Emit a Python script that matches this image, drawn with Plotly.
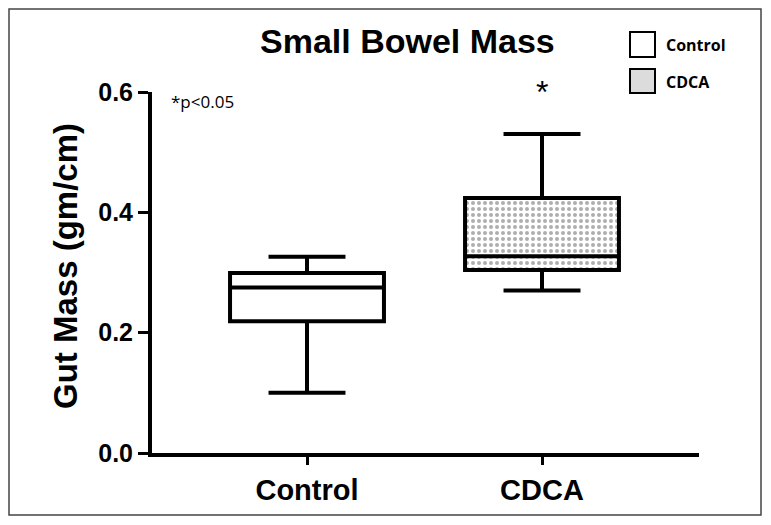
import plotly.graph_objects as go

# ---------------- data ----------------
groups = ["Control", "CDCA"]
q_min = [0.100, 0.270]
q1 = [0.219, 0.304]
median = [0.275, 0.327]
q3 = [0.299, 0.424]
q_max = [0.326, 0.530]
y_ticks = [0.0, 0.2, 0.4, 0.6]
y_tick_labels = ["0.0", "0.2", "0.4", "0.6"]
fills = ["white", "pattern"]

# ---------------- geometry (pixels, page coordinates) ----------------
OFF = 8                      # default body margin of the html page
W, H = 771 - OFF, 525 - OFF  # figure size
L, R, T, B = 152, 699, 92, 453   # plot area in page pixels


def px_x(px):
    return (px - L) / (R - L)


def px_y(py):
    return (B - py) / (B - T)


FONT = "Liberation Sans, Arial, sans-serif"
BOX_W = 0.655
CAT0_PX, CAT_STEP = 307, 235

fig = go.Figure()

for i, g in enumerate(groups):
    if fills[i] == "pattern":
        fig.add_trace(go.Bar(
            x=[g], base=[q1[i]], y=[q3[i] - q1[i]], width=BOX_W,
            marker=dict(color="white",
                        pattern=dict(shape=".", fgcolor="#5e5e5e", bgcolor="white",
                                     size=6, solidity=0.35),
                        line=dict(width=0)),
            showlegend=False, hoverinfo="skip"))
    fig.add_trace(go.Box(
        x=[g], q1=[q1[i]], median=[median[i]], q3=[q3[i]],
        lowerfence=[q_min[i]], upperfence=[q_max[i]],
        width=BOX_W, whiskerwidth=0.5, boxpoints=False,
        line=dict(color="black", width=4),
        fillcolor="white" if fills[i] == "white" else "rgba(0,0,0,0)",
        name=g, showlegend=False))

shapes = []
# outer frame
shapes.append(dict(type="rect", xref="paper", yref="paper",
                   x0=px_x(9), x1=px_x(761), y0=px_y(9), y1=px_y(515),
                   line=dict(color="#444", width=1.5), fillcolor="rgba(0,0,0,0)", layer="below"))
# legend swatches
shapes.append(dict(type="rect", xref="paper", yref="paper",
                   x0=px_x(630), x1=px_x(655), y0=px_y(57), y1=px_y(32),
                   line=dict(color="black", width=2), fillcolor="white"))
shapes.append(dict(type="rect", xref="paper", yref="paper",
                   x0=px_x(630), x1=px_x(655), y0=px_y(93), y1=px_y(69),
                   line=dict(color="black", width=2), fillcolor="#dcdcdc"))

annotations = [
    dict(text="Small Bowel Mass", xref="paper", yref="paper",
         x=px_x(407), y=px_y(41), xanchor="center", yanchor="middle", showarrow=False,
         font=dict(family=FONT, size=34, color="black", weight="bold")),
    dict(text="Gut Mass (gm/cm)", xref="paper", yref="paper", textangle=-90,
         x=px_x(65), y=px_y(266), xanchor="center", yanchor="middle", showarrow=False,
         font=dict(family=FONT, size=33, color="black", weight="bold")),
    dict(text="*p<0.05", xref="paper", yref="paper",
         x=px_x(169), y=px_y(102), xanchor="left", yanchor="middle", showarrow=False,
         font=dict(family="Open Sans, sans-serif", size=17, color="black")),
    dict(text="*", xref="x", yref="paper", x=groups[1],
         y=px_y(92), xanchor="center", yanchor="middle", showarrow=False,
         font=dict(family=FONT, size=32, color="black")),
    dict(text="Control", xref="paper", yref="paper",
         x=px_x(664), y=px_y(45), xanchor="left", yanchor="middle", showarrow=False,
         font=dict(family="Open Sans, sans-serif", size=16, color="black", weight="bold")),
    dict(text="CDCA", xref="paper", yref="paper",
         x=px_x(664), y=px_y(82), xanchor="left", yanchor="middle", showarrow=False,
         font=dict(family="Open Sans, sans-serif", size=16, color="black", weight="bold")),
]

fig.update_layout(
    width=W, height=H,
    margin=dict(l=L - OFF, r=W - (R - OFF), t=T - OFF, b=H - (B - OFF), pad=0),
    paper_bgcolor="white", plot_bgcolor="white",
    boxmode="overlay", barmode="overlay",
    showlegend=False,
    shapes=shapes, annotations=annotations,
    xaxis=dict(type="category", categoryorder="array", categoryarray=groups,
               range=[(L - CAT0_PX) / CAT_STEP, (R - CAT0_PX) / CAT_STEP],
               showline=True, linewidth=4, linecolor="black",
               ticks="outside", ticklen=8, tickwidth=3, tickcolor="black",
               showgrid=False, zeroline=False,
               tickfont=dict(family=FONT, size=29, color="black", weight="bold")),
    yaxis=dict(range=[0, 0.6], tickvals=y_ticks, ticktext=y_tick_labels,
               showline=True, linewidth=4, linecolor="black",
               ticks="outside", ticklen=10, tickwidth=3, tickcolor="black",
               showgrid=False, zeroline=False,
               tickfont=dict(family=FONT, size=25, color="black", weight="bold")),
)

fig.write_html("out.html")
